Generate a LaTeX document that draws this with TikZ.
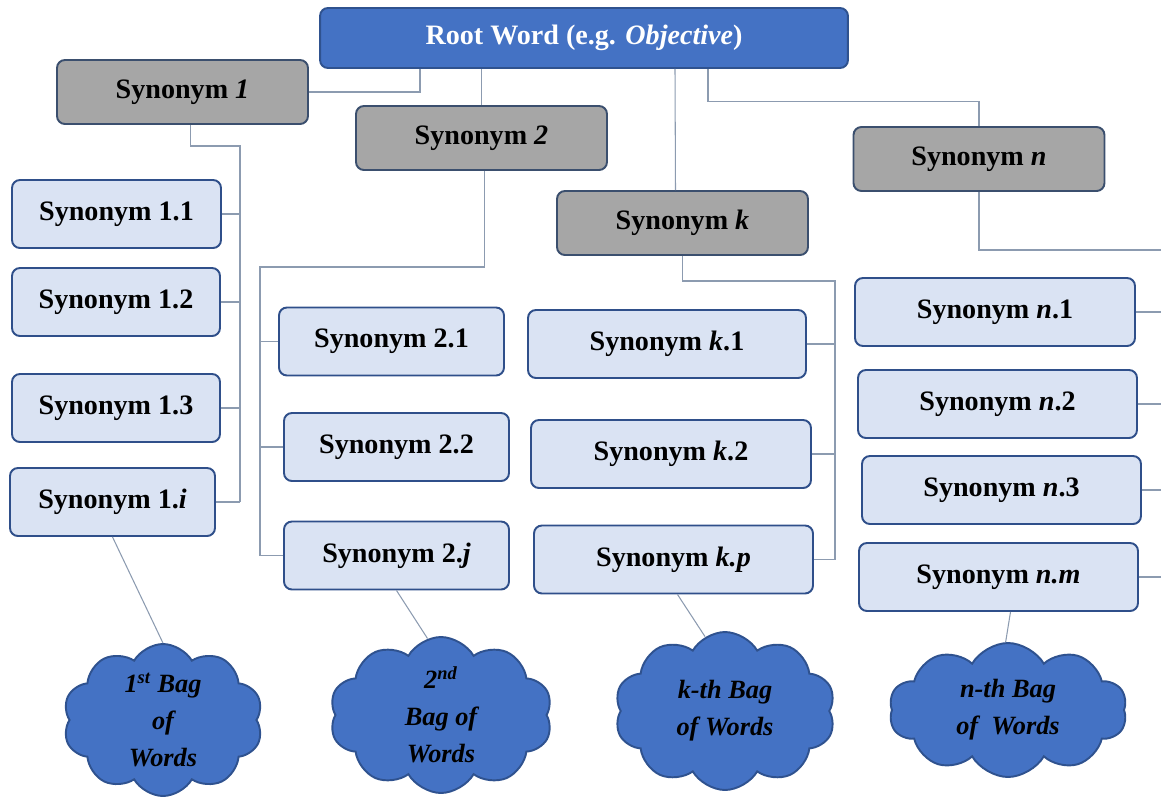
\documentclass[tikz,border=0pt]{standalone}
\usepackage{fontspec}
\setmainfont{Liberation Serif}
\usetikzlibrary{shapes.symbols,calc}
\definecolor{rootblue}{HTML}{4472C4}
\definecolor{rootedge}{HTML}{2F528F}
\definecolor{syngrey}{HTML}{A6A6A6}
\definecolor{synedge}{HTML}{3B4F6E}
\definecolor{leafblue}{HTML}{DAE3F3}
\definecolor{leafedge}{HTML}{2F4F8A}
\definecolor{linkgrey}{HTML}{8C9BB0}
\tikzset{
  rootbox/.style={draw=rootedge,fill=rootblue,line width=1.1pt,rounded corners=4.5pt,
    text=white,font=\fontsize{16}{19}\selectfont\bfseries,minimum width=10.56cm,minimum height=1.2cm},
  synbox/.style={draw=synedge,fill=syngrey,line width=1.1pt,rounded corners=4.5pt,
    font=\fontsize{16}{19}\selectfont\bfseries,minimum width=5.02cm,minimum height=1.28cm},
  leafbox/.style={draw=leafedge,fill=leafblue,line width=1.1pt,rounded corners=4.5pt,
    font=\fontsize{16}{19}\selectfont\bfseries,minimum height=1.36cm},
  bag/.style={cloud,cloud puffs=10,cloud puff arc=120,cloud ignores aspect,
    draw=rootedge,fill=rootblue,line width=1.1pt,inner sep=0pt},
  baglabel/.style={align=center,font=\fontsize{15}{21}\selectfont\bfseries\itshape},
  link/.style={draw=linkgrey,line width=0.6pt}
}
\begin{document}
\begin{tikzpicture}[x=0.02cm,y=-0.02cm]
  \useasboundingbox (0,0) rectangle (1161,796);
  \node[rootbox] (root) at (584,38) {Root Word (e.g. \textit{Objective})};
  \node[synbox] (syn1) at (182.5,92) {Synonym \textit{1}};
  \node[synbox] (syn2) at (481.5,138) {Synonym \textit{2}};
  \node[synbox] (synk) at (682.5,223) {Synonym \textit{k}};
  \node[synbox] (synn) at (979,159) {Synonym \textit{n}};

  \node[leafbox,minimum width=4.18cm] (l11) at (116.5,214) {Synonym 1.1};
  \node[leafbox,minimum width=4.16cm] (l12) at (116,302) {Synonym 1.2};
  \node[leafbox,minimum width=4.16cm] (l13) at (116,408) {Synonym 1.3};
  \node[leafbox,minimum width=4.1cm] (l1i) at (112.5,502) {Synonym 1.\textit{i}};
  \node[leafbox,minimum width=4.5cm] (l21) at (391.5,341.5) {Synonym 2.1};
  \node[leafbox,minimum width=4.5cm] (l22) at (396.5,447) {Synonym 2.2};
  \node[leafbox,minimum width=4.5cm] (l2j) at (396.5,555.5) {Synonym 2.\textit{j}};
  \node[leafbox,minimum width=5.56cm] (lk1) at (667,344) {Synonym \textit{k}.1};
  \node[leafbox,minimum width=5.6cm] (lk2) at (671,454) {Synonym \textit{k}.2};
  \node[leafbox,minimum width=5.58cm] (lkp) at (673.5,559.5) {Synonym \textit{k.p}};
  \node[leafbox,minimum width=5.6cm] (ln1) at (995,312) {Synonym \textit{n}.1};
  \node[leafbox,minimum width=5.58cm] (ln2) at (997.5,404) {Synonym \textit{n}.2};
  \node[leafbox,minimum width=5.58cm] (ln3) at (1001.5,490) {Synonym \textit{n}.3};
  \node[leafbox,minimum width=5.58cm] (lnm) at (998.5,577) {Synonym \textit{n.m}};

  \node[bag,minimum width=4cm,minimum height=3.04cm,
    label={[baglabel]center:{1\textsuperscript{st} Bag\\of\\Words}}] (bag1) at (163,720) {};
  \node[bag,minimum width=4.46cm,minimum height=3.12cm,
    label={[baglabel]center:{2\textsuperscript{nd}\\Bag of\\Words}}] (bag2) at (441,715) {};
  \node[bag,minimum width=4.42cm,minimum height=3.16cm,
    label={[baglabel]center:{k-th Bag\\of Words}}] (bagk) at (725,711) {};
  \node[bag,minimum width=4.76cm,minimum height=2.68cm,
    label={[baglabel]center:{n-th Bag\\of~~Words}}] (bagn) at (1008,710) {};

  \coordinate (t1) at (240,146);
  \coordinate (t2) at (260,267);
  \coordinate (tk) at (835,281);
  \coordinate (tn) at (1161,250);

  \begin{scope}[link]
    \draw ($(root.south)+(-164,0)$) |- (syn1.east);
    \draw (syn2.north |- root.south) -- (syn2.north);
    \draw ($(root.south)+(91,0)$) -- ($(synk.north)+(-7,0)$);
    \draw ($(root.south)+(124,0)$) -- ++(0,33) -| (synn.north);

    \draw ($(syn1.south)+(8,0)$) |- (t1) -- (t1 |- l1i.east);
    \draw (l11.east) -- (l11.east -| t1);
    \draw (l12.east) -- (l12.east -| t1);
    \draw (l13.east) -- (l13.east -| t1);
    \draw (l1i.east) -- (l1i.east -| t1);

    \draw ($(syn2.south)+(3,0)$) |- (t2) -- (t2 |- l2j.west);
    \draw (l21.west) -- (l21.west -| t2);
    \draw (l22.west) -- (l22.west -| t2);
    \draw (l2j.west) -- (l2j.west -| t2);

    \draw (synk.south) |- (tk) -- (tk |- lkp.east);
    \draw (lk1.east) -- (lk1.east -| tk);
    \draw (lk2.east) -- (lk2.east -| tk);
    \draw (lkp.east) -- (lkp.east -| tk);

    \draw (synn.south) |- (tn);
    \draw (ln1.east) -- (ln1.east -| tn);
    \draw (ln2.east) -- (ln2.east -| tn);
    \draw (ln3.east) -- (ln3.east -| tn);
    \draw (lnm.east) -- (lnm.east -| tn);

    \draw (l1i.south) -- (bag1.north);
    \draw (l2j.south) -- (bag2.100);
    \draw ($(lkp.south)+(4,0)$) -- (bagk.105);
    \draw ($(lnm.south)+(12,0)$) -- (bagn.92);
  \end{scope}
\end{tikzpicture}
\end{document}
